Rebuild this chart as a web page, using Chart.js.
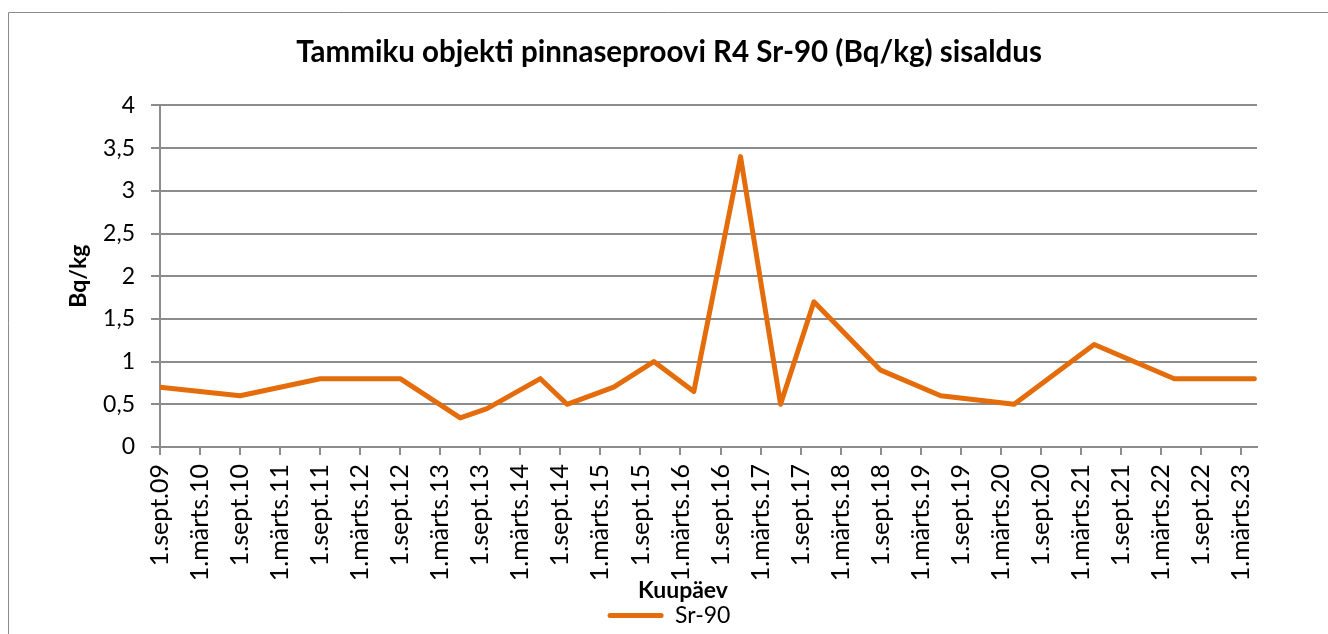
<!DOCTYPE html>
<html>
<head>
<meta charset="utf-8">
<script src="https://cdn.jsdelivr.net/npm/chart.js@4.4.1/dist/chart.umd.min.js"></script>
<style>
  html, body { margin: 0; padding: 0; background: #ffffff; overflow: hidden; }
  #wrap { width: 1328px; height: 634px; position: relative; }
  canvas { display: block; }
</style>
</head>
<body>
<div id="wrap"><canvas id="c" width="1328" height="634"></canvas></div>
<script>
// ---- Data ----
const chartTitle = 'Tammiku objekti pinnaseproovi R4 Sr-90 (Bq/kg) sisaldus';
const seriesName = 'Sr-90';
const xAxisTitle = 'Kuupäev';
const yAxisTitle = 'Bq/kg';

// sampling dates (year-month)
const sampleMonths = ['2009-09','2010-09','2011-09','2012-09','2013-06','2013-10','2014-06','2014-10',
  '2015-05','2015-11','2016-05','2016-12','2017-06','2017-11','2018-09','2019-06','2020-05','2021-05',
  '2022-05','2023-05'];
// Sr-90 content, Bq/kg
const sr90Values = [0.7, 0.6, 0.8, 0.8, 0.34, 0.45, 0.8, 0.5,
  0.7, 1.0, 0.65, 3.4, 0.5, 1.7, 0.9, 0.6, 0.5, 1.2,
  0.8, 0.8];

// x tick dates and labels
const tickMonths = ['2009-09','2010-03','2010-09','2011-03','2011-09','2012-03','2012-09','2013-03',
  '2013-09','2014-03','2014-09','2015-03','2015-09','2016-03','2016-09','2017-03','2017-09','2018-03',
  '2018-09','2019-03','2019-09','2020-03','2020-09','2021-03','2021-09','2022-03','2022-09','2023-03'];
const tickLabels = ['1.sept.09','1.märts.10','1.sept.10','1.märts.11','1.sept.11','1.märts.12','1.sept.12','1.märts.13',
  '1.sept.13','1.märts.14','1.sept.14','1.märts.15','1.sept.15','1.märts.16','1.sept.16','1.märts.17','1.sept.17','1.märts.18',
  '1.sept.18','1.märts.19','1.sept.19','1.märts.20','1.sept.20','1.märts.21','1.sept.21','1.märts.22','1.sept.22','1.märts.23'];
const yTickValues = [0, 0.5, 1, 1.5, 2, 2.5, 3, 3.5, 4];
const axisStartMonth = '2009-09';
const axisEndMonth = '2023-05';

// ---- helpers ----
function monthIndex(m) {
  const [y, mo] = m.split('-').map(Number);
  const [y0, m0] = axisStartMonth.split('-').map(Number);
  return (y - y0) * 12 + (mo - m0);
}

const ORANGE = '#E46C0A';
const GRID = '#8c8c8c';
const FONT = 'Lato';

const framePlugin = {
  id: 'frame',
  beforeDraw(chart) {
    const ctx = chart.ctx;
    ctx.save();
    ctx.strokeStyle = '#8a8a8a';
    ctx.lineWidth = 1;
    ctx.beginPath();
    ctx.moveTo(8.5, chart.height);
    ctx.lineTo(8.5, 12.5);
    ctx.lineTo(chart.width, 12.5);
    ctx.stroke();
    ctx.restore();
  }
};

const xTitlePlugin = {
  id: 'xTitle',
  afterDraw(chart) {
    const ctx = chart.ctx;
    ctx.save();
    ctx.font = 'bold 23px ' + FONT;
    ctx.fillStyle = '#000';
    ctx.textAlign = 'center';
    ctx.textBaseline = 'middle';
    ctx.fillText(xAxisTitle, 683, 591);
    ctx.restore();
  }
};

function draw() {
  const points = sampleMonths.map((m, i) => ({ x: monthIndex(m), y: sr90Values[i] }));
  new Chart(document.getElementById('c'), {
    type: 'line',
    data: {
      datasets: [{
        label: seriesName,
        data: points,
        borderColor: ORANGE,
        backgroundColor: ORANGE,
        borderWidth: 5,
        pointRadius: 0,
        pointHoverRadius: 0,
        tension: 0,
        borderCapStyle: 'round',
        borderJoinStyle: 'round',
        fill: false
      }]
    },
    options: {
      responsive: false,
      animation: false,
      events: [],
      layout: { padding: { left: 10, right: 0, top: 0, bottom: -3 } },
      plugins: {
        title: {
          display: true,
          text: chartTitle,
          color: '#000',
          font: { family: FONT, size: 29.5, weight: 'bold' },
          padding: { top: 35, bottom: 35 }
        },
        legend: {
          display: true,
          position: 'bottom',
          labels: {
            color: '#000',
            font: { family: FONT, size: 23 },
            boxWidth: 56,
            boxHeight: 5,
            padding: 10,
            generateLabels: () => [{
              text: seriesName,
              fillStyle: ORANGE,
              strokeStyle: ORANGE,
              lineWidth: 0,
              borderRadius: 2.5,
              datasetIndex: 0
            }]
          }
        },
        tooltip: { enabled: false }
      },
      scales: {
        x: {
          type: 'linear',
          min: monthIndex(axisStartMonth),
          max: monthIndex(axisEndMonth) + 0.4,
          afterBuildTicks(scale) {
            scale.ticks = tickMonths.map(m => ({ value: monthIndex(m) }));
          },
          afterFit(scale) { scale.height = 147; },
          ticks: {
            autoSkip: false,
            minRotation: 90,
            maxRotation: 90,
            padding: 9,
            color: '#000',
            font: { family: FONT, size: 25 },
            callback: (v, i) => tickLabels[i]
          },
          grid: {
            drawOnChartArea: false,
            drawTicks: true,
            tickLength: 8,
            color: GRID,
            lineWidth: 2
          },
          border: { display: true, color: GRID, width: 2 }
        },
        y: {
          type: 'linear',
          position: 'left',
          min: yTickValues[0],
          max: yTickValues[yTickValues.length - 1],
          afterBuildTicks(scale) {
            scale.ticks = yTickValues.map(v => ({ value: v }));
          },
          afterFit(scale) { scale.width = 150; },
          ticks: {
            padding: 16,
            color: '#000',
            font: { family: FONT, size: 23 },
            callback: (v) => String(v).replace('.', ',')
          },
          grid: {
            color: GRID,
            lineWidth: 2,
            drawTicks: true,
            tickLength: 9
          },
          border: { display: true, color: GRID, width: 2 },
          title: {
            display: true,
            text: yAxisTitle,
            color: '#000',
            font: { family: FONT, size: 23, weight: 'bold' },
            padding: { top: 55, bottom: 0 }
          }
        },
        yR: {
          type: 'linear',
          position: 'right',
          display: true,
          grid: { display: false, drawTicks: false },
          border: { display: false },
          ticks: { display: false },
          afterFit(scale) { scale.width = 71; }
        }
      }
    },
    plugins: [framePlugin, xTitlePlugin]
  });
}

const fontLoads = ['bold 29.5px ' + FONT, '23px ' + FONT, '25px ' + FONT, 'bold 23px ' + FONT].map(f => document.fonts.load(f));
Promise.all(fontLoads).then(draw, draw);
</script>
</body>
</html>
